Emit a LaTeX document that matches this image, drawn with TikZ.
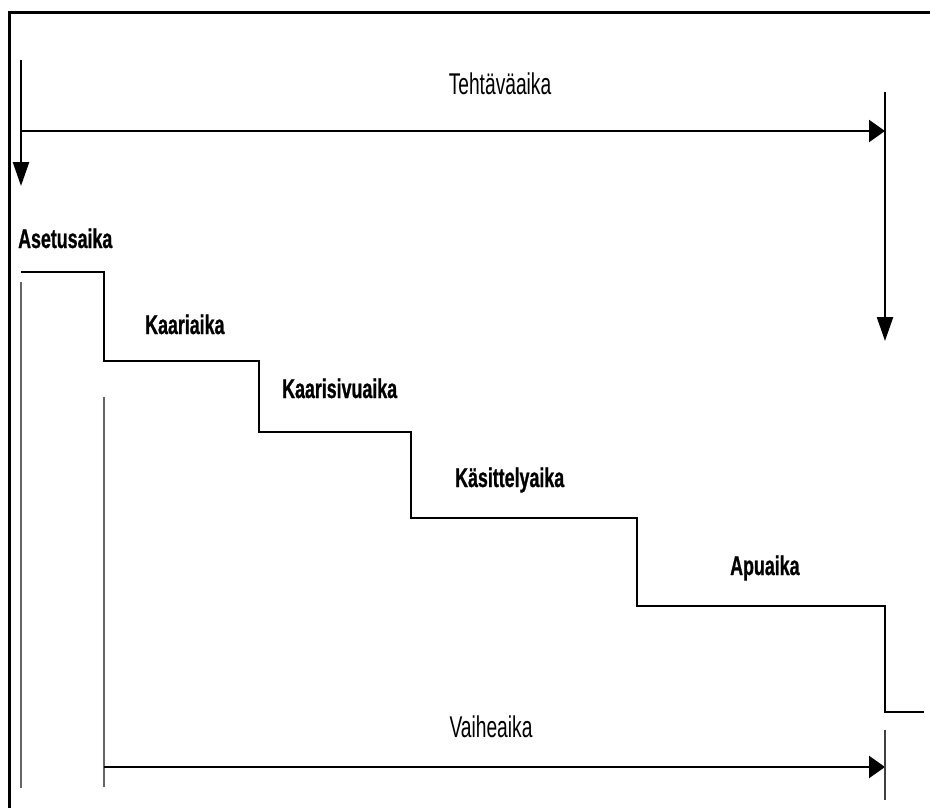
\documentclass[tikz,border=0pt]{standalone}
\usepackage{fontspec}
\usetikzlibrary{arrows.meta}
\newfontfamily\condreg[FakeStretch=0.64]{Liberation Sans}
\newfontfamily\condbold[FakeStretch=0.66,FakeBold=0.8]{Liberation Sans Bold}
\tikzset{
  frame/.style={line width=3pt, black},
  main/.style={line width=2.4pt, black},
  faint/.style={line width=2pt, black!60},
  varr/.style={main, -{Triangle[length=24pt,width=16pt]}},
  harr/.style={main, -{Triangle[length=16pt,width=22pt]}},
  reglabel/.style={font=\condreg\fontsize{30}{30}\selectfont, inner sep=0pt, anchor=base},
  boldlabel/.style={font=\condbold\fontsize{27}{27}\selectfont, inner sep=0pt, anchor=base},
}
\begin{document}
\begin{tikzpicture}[x=1pt,y=-1pt]
\useasboundingbox (0,0) rectangle (930,808);
% frame (top and left edges)
\draw[frame] (9,808) -- (9,13) -- (930,13);

% coordinates
\coordinate (tl0) at (21,60);
\coordinate (tl1) at (21,186);
\coordinate (th0) at (21,131);
\coordinate (th1) at (885,131);
\coordinate (tr0) at (885,92);
\coordinate (tr1) at (885,341);
\coordinate (b0) at (104,767);
\coordinate (b1) at (885,767);
\coordinate (bt0) at (885,730);
\coordinate (bt1) at (885,800);
\coordinate (g0) at (21,282);
\coordinate (g1) at (21,788);
\coordinate (h0) at (104,397);
\coordinate (h1) at (104,787);

% top arrows
\draw[varr] (tl0) -- (tl1);
\draw[harr] (th0) -- (th1);
\draw[varr] (tr0) -- (tr1);

% staircase
\coordinate (s0) at (21,272);
\coordinate (s1) at (104,272);
\coordinate (s2) at (104,361);
\coordinate (s3) at (259,361);
\coordinate (s4) at (259,432);
\coordinate (s5) at (411,432);
\coordinate (s6) at (411,518);
\coordinate (s7) at (637,518);
\coordinate (s8) at (637,606);
\coordinate (s9) at (885,606);
\coordinate (s10) at (885,712);
\coordinate (s11) at (924,712);
\draw[main, line join=miter] (s0) -- (s1) -- (s2) -- (s3) -- (s4) -- (s5) -- (s6) -- (s7) -- (s8) -- (s9) -- (s10) -- (s11);

% lower verticals
\draw[faint] (g0) -- (g1);
\draw[faint] (h0) -- (h1);

% bottom arrow and tick
\draw[harr] (b0) -- (b1);
\draw[faint, black!75] (bt0) -- (bt1);

% labels
\node[reglabel] (teht) at (500,95) {Tehtäväaika};
\node[reglabel] (vaihe) at (491,737) {Vaiheaika};
\node[boldlabel, anchor=base west] (aset) at (18,248) {Asetusaika};
\node[boldlabel, anchor=base west] (kaari) at (145,334) {Kaariaika};
\node[boldlabel, anchor=base west] (ksivu) at (282,398) {Kaarisivuaika};
\node[boldlabel, anchor=base west] (kasit) at (455,487) {Käsittelyaika};
\node[boldlabel, anchor=base west] (apu) at (730,575) {Apuaika};
\end{tikzpicture}
\end{document}
